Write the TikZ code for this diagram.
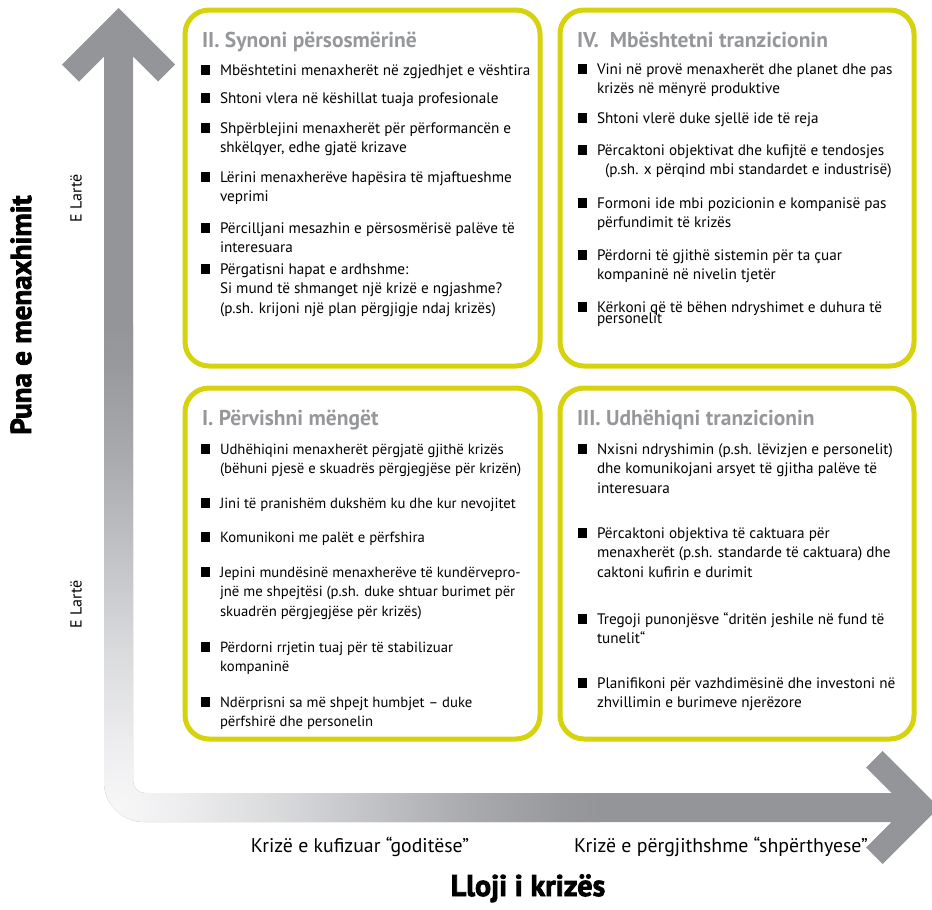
\documentclass[tikz,border=0pt]{standalone}
\usepackage{fontspec}
\setmainfont{PT Sans}
\newfontfamily\heavyfont{PT Sans}[BoldFeatures={FakeBold=2.5}]
\definecolor{boxyellow}{RGB}{214,210,12}
\definecolor{arrowgray}{RGB}{147,149,152}
\definecolor{titlegray}{RGB}{150,151,154}
\definecolor{fadeA}{RGB}{247,247,248}
\definecolor{fadeB}{RGB}{238,238,240}
\definecolor{fadeC}{RGB}{218,219,221}
\definecolor{fadeD}{RGB}{194,195,198}
\definecolor{fadeE}{RGB}{170,171,174}
\definecolor{fadeF}{RGB}{152,153,156}
\pgfdeclareradialshading{cornerfade}{\pgfpointorigin}{color(0bp)=(fadeA); color(3bp)=(fadeB); color(8bp)=(fadeC); color(13bp)=(fadeD); color(18bp)=(fadeE); color(23bp)=(fadeF); color(25bp)=(arrowgray); color(50bp)=(arrowgray)}
\newcommand{\arrowshape}{(118.5,8) -- (175,64.5) -- (158,81.5) -- (133,56.5) -- (133,781) .. controls (133,787.6) and (138.4,793) .. (145,793) -- (891.5,793) -- (866,767.5) -- (882.5,751) -- (939,807.5) -- (882.5,864) -- (866,847.5) -- (891.5,822) -- (144,822) .. controls (122,822) and (104,804) .. (104,782) -- (104,56.5) -- (79,81.5) -- (62,64.5) -- cycle}
\newcommand{\bitem}[6][]{%
  \node[bul] (#2b) at ({#3+4.5},{#5-5}) {};
  \node[itxt,#1] (#2) at (#4,#5) {\vtop{#6}};
}
\tikzset{
  qbox/.style={draw=boxyellow, line width=5pt, rounded corners=24pt, minimum width=355pt, minimum height=355pt, inner sep=0pt, outer sep=0pt, anchor=north west},
  ttl/.style={anchor=base west, inner sep=0pt, outer sep=0pt, text=titlegray, font=\fontsize{21.5}{24}\selectfont\bfseries},
  itxt/.style={anchor=base west, inner sep=0pt, outer sep=0pt, font=\fontsize{15.2}{19.7}\selectfont},
  narrow/.style={font=\fontsize{14.7}{19.7}\selectfont},
  bul/.style={fill=black, rectangle, minimum size=9.5pt, inner sep=0pt, outer sep=0pt},
  ylab/.style={rotate=90, inner sep=0pt, font=\fontsize{29}{32}\selectfont\heavyfont\bfseries},
  elab/.style={rotate=90, inner sep=0pt, font=\fontsize{16}{18}\selectfont},
  xlab/.style={anchor=base, inner sep=0pt, font=\fontsize{19.8}{22}\selectfont},
  xttl/.style={anchor=base, inner sep=0pt, font=\fontsize{30}{33}\selectfont\heavyfont\bfseries}
}
\begin{document}
\begin{tikzpicture}[x=1pt,y=-1pt]
\useasboundingbox (0,0) rectangle (932,910);
% L-shaped axis arrow
\fill[arrowgray] \arrowshape;
\begin{scope}
  \clip \arrowshape;
  \shade[shading=cornerfade] (120,806) circle (480);
\end{scope}
% boxes
\node[qbox, minimum height=356pt] (boxII) at (185,10) {};
\node[qbox, minimum width=354pt, minimum height=356pt] (boxIV) at (560,10) {};
\node[qbox, minimum height=351pt] (boxI) at (185,388) {};
\node[qbox, minimum width=354pt, minimum height=351pt] (boxIII) at (560,388) {};
% box II
\node[ttl] (tII) at (202,47) {II. Synoni përsosmërinë};
\bitem{a1}{201}{220}{75}{\hbox{Mbështetini menaxherët në zgjedhjet e vështira}}
\bitem{a2}{201}{220}{103}{\hbox{Shtoni vlera në këshillat tuaja profesionale}}
\bitem{a3}{201}{220}{133}{\hbox{Shpërblejini menaxherët për përformancën e}\hbox{shkëlqyer, edhe gjatë krizave}}
\bitem{a4}{201}{220}{182}{\hbox{Lërini menaxherëve hapësira të mjaftueshme}\hbox{veprimi}}
\bitem{a5}{201}{220}{233}{\hbox{Përcilljani mesazhin e përsosmërisë palëve të}\hbox{interesuara}}
\bitem{a6}{201}{220}{274}{\hbox{Përgatisni hapat e ardhshme:}\hbox{Si mund të shmanget një krizë e ngjashme?}\hbox{(p.sh. krijoni një plan përgjigje ndaj krizës)}}
% box IV
\node[ttl] (tIV) at (577,47) {IV.\ \ Mbështetni tranzicionin};
\bitem{b1}{578}{597}{74}{\hbox{Vini në provë menaxherët dhe planet dhe pas}\hbox{krizës në mënyrë produktive}}
\bitem{b2}{578}{597}{123}{\hbox{Shtoni vlerë duke sjellë ide të reja}}
\bitem{b3}{578}{597}{155}{\hbox{Përcaktoni objektivat dhe kufijtë e tendosjes}\hbox{\kern8pt(p.sh. x përqind mbi standardet e industrisë)}}
\bitem{b4}{578}{597}{208}{\hbox{Formoni ide mbi pozicionin e kompanisë pas}\hbox{përfundimit të krizës}}
\bitem{b5}{578}{597}{260}{\hbox{Përdorni të gjithë sistemin për ta çuar}\hbox{kompaninë në nivelin tjetër}}
\bitem{b6}{578}{597}{312}{\hbox{Kërkoni që të bëhen ndryshimet e duhura të}\vskip-8.5pt\hbox{personelit}}
% box I
\node[ttl] (tI) at (202,425) {I. Përvishni mëngët};
\bitem[narrow]{c1}{201}{220}{454}{\hbox{Udhëhiqini menaxherët përgjatë gjithë krizës}\hbox{(bëhuni pjesë e skuadrës përgjegjëse për krizën)}}
\bitem[narrow]{c2}{201}{220}{508}{\hbox{Jini të pranishëm dukshëm ku dhe kur nevojitet}}
\bitem[narrow]{c3}{201}{220}{542}{\hbox{Komunikoni me palët e përfshira}}
\bitem[narrow]{c4}{201}{220}{577}{\hbox{Jepini mundësinë menaxherëve të kundërvepro-}\hbox{jnë me shpejtësi (p.sh. duke shtuar burimet për}\hbox{skuadrën përgjegjëse për krizës)}}
\bitem[narrow]{c5}{201}{220}{652}{\hbox{Përdorni rrjetin tuaj për të stabilizuar}\hbox{kompaninë}}
\bitem[narrow]{c6}{201}{220}{707}{\hbox{Ndërprisni sa më shpejt humbjet – duke}\hbox{përfshirë dhe personelin}}
% box III
\node[ttl] (tIII) at (577,425) {III. Udhëhiqni tranzicionin};
\bitem{d1}{578}{597}{454}{\hbox{Nxisni ndryshimin (p.sh. lëvizjen e personelit)}\hbox{dhe komunikojani arsyet të gjitha palëve të}\hbox{interesuara}}
\bitem{d2}{578}{597}{538}{\hbox{Përcaktoni objektiva të caktuara për}\hbox{menaxherët (p.sh. standarde të caktuara) dhe}\hbox{caktoni kufirin e durimit}}
\bitem{d3}{578}{597}{624}{\hbox{Tregoji punonjësve “dritën jeshile në fund të}\hbox{tunelit“}}
\bitem{d4}{578}{597}{688}{\hbox{Planifikoni për vazhdimësinë dhe investoni në}\hbox{zhvillimin e burimeve njerëzore}}
% axis labels
\node[ylab] (ylabel) at (21,315) {Puna e menaxhimit};
\node[elab] (hiA) at (76,198) {E Lartë};
\node[elab] (hiB) at (76,604) {E Lartë};
\node[xlab] (xlo) at (360,852) {Krizë e kufizuar “goditëse”};
\node[xlab] (xhi) at (721,852) {Krizë e përgjithshme “shpërthyese”};
\node[xttl] (xlabel) at (528,896) {Lloji i krizës};
\end{tikzpicture}
\end{document}
